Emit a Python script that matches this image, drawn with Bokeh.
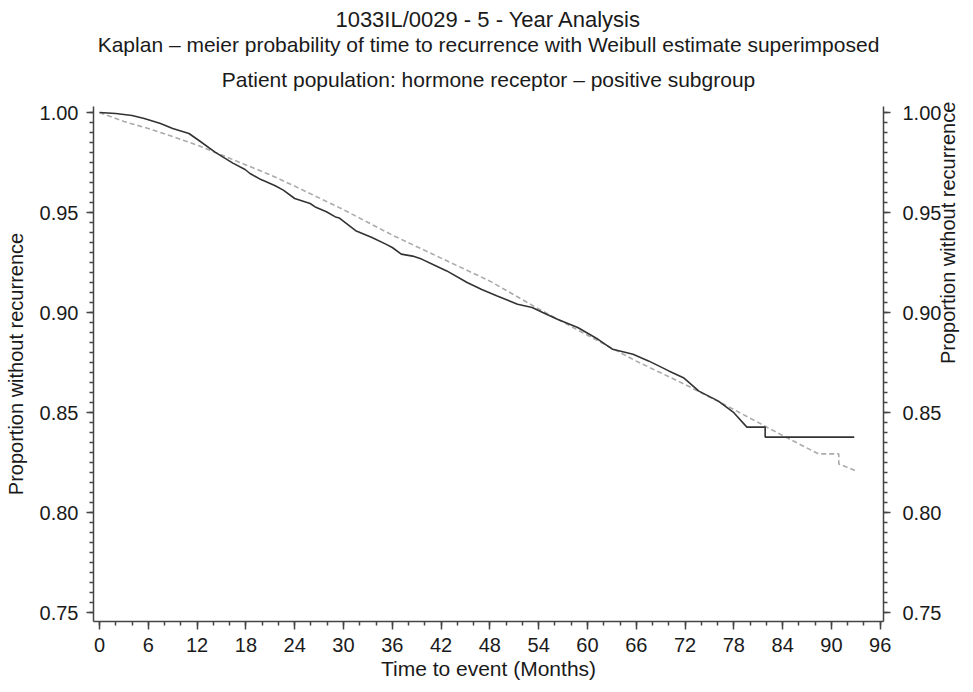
import math
from bokeh.plotting import figure
from bokeh.models import LinearAxis, SingleIntervalTicker, NumeralTickFormatter, Title, Range1d
from bokeh.embed import file_html
from bokeh.resources import INLINE

# Kaplan-Meier estimate (months, proportion without recurrence)
km_months = [0, 2, 4, 5.5, 7.5, 9, 11, 12.4, 14.2, 16.4, 17.9, 18.5, 19.7, 20.5, 21.6, 22.6,
             24.0, 25.9, 26.6, 27.9, 29.0, 29.5, 31.5, 33.5, 35.2, 36.0, 37.1, 38.5, 39.6,
             41.0, 42.7, 45.2, 47.0, 48.9, 51.4, 53.2, 54.5, 56.3, 58.8, 61.3, 63.1, 65.6,
             67.5, 70.0, 71.8, 73.7, 76.1, 78.0, 79.6, 81.85, 81.85, 92.8]
km_values = [1.0, 0.9995, 0.9985, 0.997, 0.9945, 0.992, 0.9895, 0.9855, 0.9802, 0.9747,
             0.9715, 0.9695, 0.9668, 0.9654, 0.9634, 0.9612, 0.9570, 0.9545, 0.9526, 0.9504,
             0.9478, 0.9472, 0.9409, 0.9375, 0.9342, 0.9325, 0.9292, 0.9282, 0.9267, 0.9240,
             0.9208, 0.9150, 0.9115, 0.9083, 0.9041, 0.9025, 0.9000, 0.8966, 0.8925, 0.8866,
             0.8816, 0.8791, 0.8758, 0.8708, 0.8674, 0.8607, 0.8557, 0.8499, 0.8427, 0.8427,
             0.8377, 0.8377]

# Weibull estimate
wb_months = [0, 3, 6, 9, 12, 15, 18, 21, 24, 27, 30, 36, 42, 48, 54, 60, 66, 72, 78, 84,
             88.4, 90.9, 90.9, 92.9]
wb_values = [1.0, 0.9955, 0.992, 0.988, 0.9837, 0.9788, 0.9738, 0.9688, 0.9632, 0.9573,
             0.9514, 0.9387, 0.9272, 0.9157, 0.9018, 0.8886, 0.8757, 0.8640, 0.8515, 0.8385,
             0.8293, 0.8293, 0.8243, 0.8210]

title_main = "1033IL/0029 - 5 - Year Analysis"
title_sub1 = "Kaplan \u2013 meier probability of time to recurrence with Weibull estimate superimposed"
title_sub2 = "Patient population: hormone receptor \u2013 positive subgroup"
x_label = "Time to event (Months)"
y_label = "Proportion without recurrence"

FONT = "Liberation Sans"
TXT = "#1a1a1a"
AX = "#444444"
FS = "20px"

p = figure(width=973, height=692, output_backend="svg", toolbar_location=None,
           x_range=Range1d(-0.74, 96.4), y_range=Range1d(0.7455, 1.003),
           min_border_left=93, min_border_right=87, min_border_top=106, min_border_bottom=71,
           x_axis_label=x_label, y_axis_label=y_label)
p.outline_line_color = None
p.grid.visible = False

p.title.text = title_main
p.title.align = "center"
p.title.text_font = FONT
p.title.text_font_size = "22px"
p.title.text_font_style = "normal"
p.title.text_color = TXT
p.title.standoff = 9

t2 = Title(text=title_sub2, align="center", text_font=FONT, text_font_size="21px",
           text_font_style="normal", text_color=TXT, standoff=31)
p.add_layout(t2, "above")
t1 = Title(text=title_sub1, align="center", text_font=FONT, text_font_size="21px",
           text_font_style="normal", text_color=TXT, standoff=-11)
p.add_layout(t1, "above")

right_axis = LinearAxis(axis_label=y_label)
p.add_layout(right_axis, "right")
try:
    right_axis.axis_label_orientation = math.pi / 2
except Exception:
    pass

def style_y(ax):
    ax.ticker = SingleIntervalTicker(interval=0.05, num_minor_ticks=10)
    ax.formatter = NumeralTickFormatter(format="0.00")

style_y(p.yaxis[0])
style_y(right_axis)
p.xaxis[0].ticker = SingleIntervalTicker(interval=6, num_minor_ticks=3)

for ax in [p.xaxis[0], p.yaxis[0], right_axis]:
    ax.axis_line_color = AX
    ax.axis_line_width = 1.5
    ax.major_tick_line_color = AX
    ax.major_tick_line_width = 1.5
    ax.minor_tick_line_color = AX
    ax.minor_tick_line_width = 1.5
    ax.major_tick_in = 0
    ax.minor_tick_in = 0
    ax.major_tick_out = 7
    ax.minor_tick_out = 4
    ax.major_label_text_font = FONT
    ax.major_label_text_font_size = FS
    ax.major_label_text_color = TXT
    ax.axis_label_text_font = FONT
    ax.axis_label_text_font_size = FS
    ax.axis_label_text_font_style = "normal"
    ax.axis_label_text_color = TXT

p.xaxis[0].major_tick_out = 8
p.xaxis[0].major_label_standoff = 8
p.xaxis[0].axis_label_standoff = 2
p.xaxis[0].axis_label_text_font_size = "21px"
p.yaxis[0].major_label_standoff = 8
p.yaxis[0].axis_label_standoff = 10
right_axis.major_label_standoff = 12
right_axis.axis_label_standoff = 4

p.line(wb_months, wb_values, line_color="#ababab", line_width=1.6, line_dash="5 3")
p.line(km_months, km_values, line_color="#333333", line_width=1.6)

open("out.html", "w").write(file_html(p, INLINE))
